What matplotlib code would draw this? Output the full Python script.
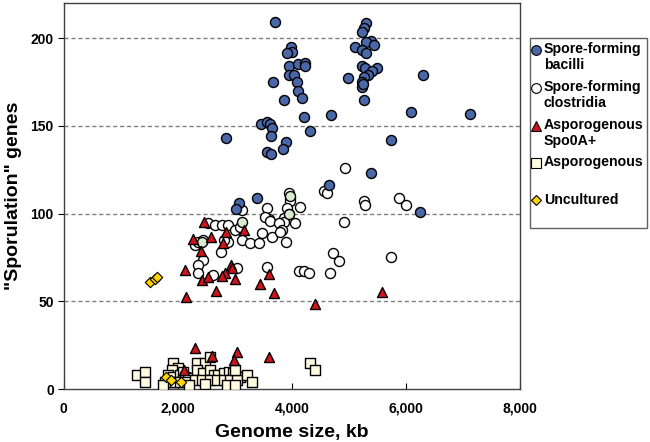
import matplotlib
matplotlib.use("Agg")
import matplotlib.pyplot as plt
from matplotlib.lines import Line2D
from matplotlib.patches import Rectangle

plt.rcParams['font.family'] = ['Liberation Sans', 'DejaVu Sans']

# spore-forming bacilli
bac_x = [3711, 3986, 4004, 3916, 3944, 4102, 4237, 4225, 3944, 4032, 3670, 4091, 4102, 4179,
         3868, 4207, 4688, 3460, 3565, 3611, 3653, 4312, 2846, 3635, 3904, 3846, 3565, 3640,
         4646, 3389, 5307, 5272, 5232, 5389, 5307, 5435, 5102, 5232, 5307, 5232, 5289, 5495,
         5407, 5330, 5260, 5232, 5232, 5249, 4986, 6302, 5260, 6091, 7132, 5740, 5395, 3084,
         3021, 6242]
bac_y = [209, 195, 192, 191.5, 184, 185, 186, 184, 179, 179, 175, 175, 170, 166,
         165, 155, 156, 151, 152, 151, 149, 147, 143, 144, 141, 137, 135, 134,
         116, 109, 208.5, 205.7, 203.4, 198.5, 197.6, 196, 195, 193, 191.5, 184, 183, 183,
         181, 179, 178, 175, 172, 174, 177, 179, 164.5, 158, 157, 142, 123, 106,
         102.5, 100.8]

# spore-forming clostridia
clo_x = [3944, 3974, 3974, 4558, 4618, 4149, 3565, 3916, 3944, 3126, 3593, 3535, 3623, 3856,
         3856, 3768, 3828, 4061, 2540, 2658, 2775, 2891, 3009, 3096, 3477, 3653, 3798, 3126,
         3272, 3418, 3904, 2891, 2804, 2307, 2365, 2453, 2763, 2453, 2365, 2365, 2628, 3039,
         3565, 4119, 4207, 4295, 4663, 4723, 4821, 5260, 5289, 5874, 6009, 4909, 5740, 4939]
clo_y = [111.6, 109, 107, 112.6, 111.6, 104, 103, 103, 100, 102, 97, 98, 95.5, 97.4,
         95.4, 94.5, 90.7, 94.5, 94.5, 93.5, 93.5, 93.5, 90.7, 92.6, 88.8, 86.9, 89.7, 85,
         83, 83, 84, 84, 85, 82, 84, 85, 78, 73.6, 70.7, 66, 65, 68.8,
         69.8, 67, 67, 66, 66, 77.8, 73, 107, 105, 108.8, 105, 95, 75, 126]

# clostridia overlapped (pale green in original)
grn_x = [3974, 3950, 3130, 2420]
grn_y = [110, 100, 95, 84]

# asporogenous Spo0A+
spo_x = [2465, 2846, 3167, 2277, 2582, 2793, 2407, 2132, 2933, 2950, 2833, 2775, 2435, 2530,
         3009, 3593, 3447, 2670, 3693, 2144, 4412, 5582, 2307, 3039, 2996, 3593, 2600, 2114]
spo_y = [95, 89.7, 90.7, 85.4, 86.5, 83.5, 78.7, 67.9, 70.7, 68.8, 66, 64.5, 62.2, 63.7,
         62.6, 65.6, 59.7, 55.9, 54.6, 52.7, 48.5, 55.5, 23.6, 21.3, 16.5, 18.4, 18.8, 10.8]

# asporogenous
asp_x = [1284, 1430, 1430, 1927, 2015, 1898, 1839, 1927, 2044, 2102, 2132, 2190, 1781, 1868,
         1956, 2044, 2132, 2336, 2482, 2336, 2453, 2570, 2629, 2716, 2804, 2892, 2979, 3038,
         3096, 2307, 2424, 2570, 2687, 2804, 2921, 3038, 2570, 3009, 3214, 3302, 4325, 4412,
         2863, 3009, 1750, 2200, 2480]
asp_y = [8, 9.9, 4.2, 14.6, 11.8, 10.8, 8, 7, 8, 9.9, 7, 6.1, 4.2, 4.2,
         4.2, 4.2, 4.2, 14.7, 14.7, 10.8, 8.9, 10.8, 8, 8, 8.9, 9.9, 8.9, 7,
         7, 5.1, 5.1, 5.1, 5.1, 5.1, 5.1, 5.1, 18.4, 10.8, 8, 4.2, 14.6, 10.8,
         2.5, 2.5, 2, 2, 3]

# uncultured
unc_x = [1518, 1605, 1635, 1798, 1880, 2060]
unc_y = [61.2, 62.6, 64, 7, 5, 4]

labels = ["Spore-forming\nbacilli", "Spore-forming\nclostridia", "Asporogenous\nSpo0A+",
          "Asporogenous", "Uncultured"]
yticks = [0, 50, 100, 150, 200]
xticks = [0, 2000, 4000, 6000, 8000]

fig = plt.figure(figsize=(6.5, 4.42), dpi=100)
ax = fig.add_axes([0.0977, 0.1199, 0.7023, 0.8733])

s = 52
ax.scatter(asp_x, asp_y, marker='s', s=s, facecolor='#FFFBE0', edgecolor='black', linewidth=1, zorder=3)
ax.scatter(unc_x, unc_y, marker='D', s=28, facecolor='#FFD400', edgecolor='black', linewidth=0.8, zorder=4)
ax.scatter(clo_x, clo_y, marker='o', s=s, facecolor='white', edgecolor='black', linewidth=1, zorder=3)
ax.scatter(grn_x, grn_y, marker='o', s=s, facecolor='#D8EBCF', edgecolor='black', linewidth=1, zorder=3)
ax.scatter(spo_x, spo_y, marker='^', s=s, facecolor='#D0141C', edgecolor='black', linewidth=1, zorder=4)
ax.scatter(bac_x, bac_y, marker='o', s=s, facecolor='#4A67A8', edgecolor='black', linewidth=1, zorder=5)

ax.set_xlim(0, 8000)
ax.set_ylim(0, 220)
ax.set_xticks(xticks)
ax.set_xticklabels([f"{v:,}" for v in xticks], fontsize=10, fontweight='bold')
ax.set_yticks(yticks)
ax.set_yticklabels([str(v) for v in yticks], fontsize=10, fontweight='bold')
ax.tick_params(axis='x', direction='in', length=4, pad=9)
ax.tick_params(axis='y', direction='out', length=4, pad=3)
for v in yticks[1:]:
    ax.axhline(v, color='#808080', linestyle=(0, (3, 2)), linewidth=1, zorder=1)
for sp in ax.spines.values():
    sp.set_color('#404040')
    sp.set_linewidth(1)
ax.set_xlabel("Genome size, kb", fontsize=14, fontweight='bold', labelpad=6)
ax.set_ylabel('"Sporulation" genes', fontsize=14, fontweight='bold', labelpad=6)

# legend, drawn by hand to match the stacked layout
fig.patches.append(Rectangle((530 / 650, 1 - 228 / 442), 117 / 650, 190 / 442,
                             transform=fig.transFigure, facecolor='white',
                             edgecolor='#606060', linewidth=1))
styles = [('o', '#4A67A8', 7), ('o', 'white', 7), ('^', '#D0141C', 7),
          ('s', '#FFFBE0', 7), ('D', '#FFD400', 5.5)]
rows = [50, 87.5, 126, 162.5, 200]
for (m, c, ms), lab, r in zip(styles, labels, rows):
    fig.add_artist(Line2D([536 / 650], [1 - r / 442], marker=m, markersize=ms,
                          markerfacecolor=c, markeredgecolor='black', markeredgewidth=0.8,
                          linestyle='none', transform=fig.transFigure))
    fig.text(544 / 650, 1 - (r - 7.5) / 442, lab, fontsize=10.2, fontweight='bold',
             va='top', ha='left', linespacing=1.15)

plt.savefig("out.png", dpi=100)
